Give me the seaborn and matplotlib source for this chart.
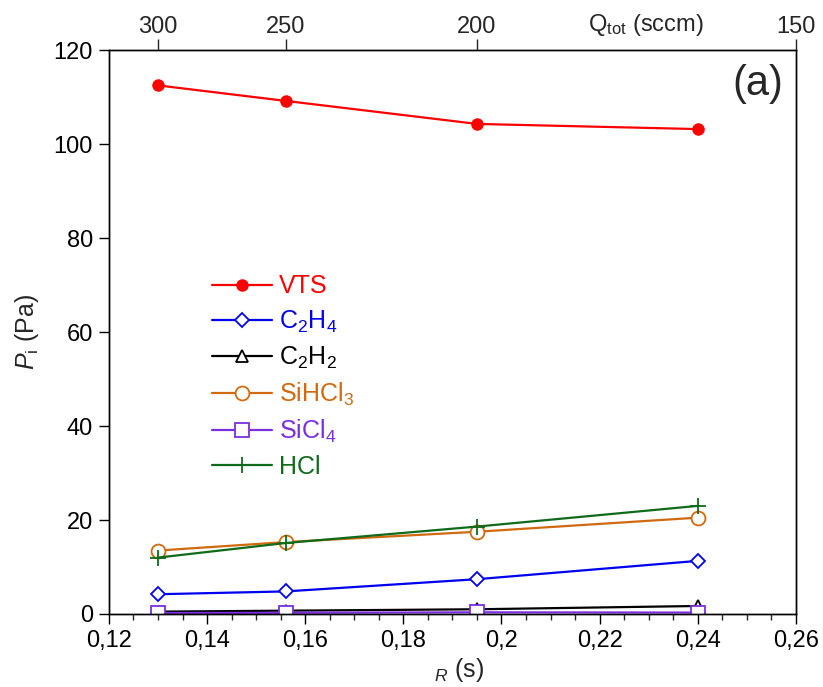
import numpy as np
import pandas as pd
import matplotlib
matplotlib.use("Agg")
import matplotlib.pyplot as plt
from matplotlib.ticker import FuncFormatter, MultipleLocator
import seaborn as sns

# ---- data ----
tau_R = [0.13, 0.156, 0.195, 0.24]
Q_tot_ticks = [300, 250, 200, 150]
vts = [112.5, 109.2, 104.3, 103.2]
c2h4 = [4.2, 4.8, 7.4, 11.3]
c2h2 = [0.5, 0.7, 1.0, 1.7]
sihcl3 = [13.5, 15.3, 17.5, 20.5]
sicl4 = [0.2, 0.25, 0.35, 0.3]
hcl = [12.0, 15.1, 18.6, 23.0]

series_names = ["VTS", r"C$_2$H$_4$", r"C$_2$H$_2$", r"SiHCl$_3$", r"SiCl$_4$", "HCl"]
series_vals = [vts, c2h4, c2h2, sihcl3, sicl4, hcl]
colors = ["#ff0000", "#0000ee", "#000000", "#d0690f", "#7b2ee0", "#0f6a1a"]
markers = ["o", "D", "^", "o", "s", "+"]
filled = [True, False, False, False, False, False]
msizes = [9, 7, 8, 10, 10, 12]

sns.set_style("ticks")
plt.rcParams["font.family"] = ["Liberation Sans", "DejaVu Sans"]
plt.rcParams["mathtext.fontset"] = "custom"
plt.rcParams["mathtext.rm"] = "Liberation Sans"
plt.rcParams["mathtext.it"] = "Liberation Sans:italic"
plt.rcParams["mathtext.bf"] = "Liberation Sans:bold"

fig = plt.figure(figsize=(8.23, 6.87), dpi=100)
ax = fig.add_axes([0.1324, 0.1063, 0.967 - 0.1324, 0.927 - 0.1063])

rows = []
for name, vals in zip(series_names, series_vals):
    for t, v in zip(tau_R, vals):
        rows.append({"tau": t, "P": v, "species": name})
df = pd.DataFrame(rows)

for name, col, mk, fl, ms in zip(series_names, colors, markers, filled, msizes):
    sub = df[df["species"] == name]
    sns.lineplot(data=sub, x="tau", y="P", ax=ax, color=col, marker=mk,
                 markersize=ms, markerfacecolor=col if fl else "white",
                 markeredgecolor=col, markeredgewidth=1.3 if not fl else 0,
                 linewidth=1.6, label=name, legend=False)

ax.set_xlim(0.12, 0.26)
ax.set_ylim(0, 120)
ax.xaxis.set_major_locator(MultipleLocator(0.02))
ax.xaxis.set_minor_locator(MultipleLocator(0.005))
ax.yaxis.set_major_locator(MultipleLocator(20))
fmt = FuncFormatter(lambda x, p: f"{round(x, 4):g}".replace(".", ","))
ax.xaxis.set_major_formatter(fmt)
ax.tick_params(axis="both", which="major", direction="out", length=7.5, width=1,
               labelsize=17, colors="black", pad=4)
ax.tick_params(axis="x", which="minor", direction="out", length=4.5, width=1)
ax.tick_params(axis="y", right=False)
for s in ax.spines.values():
    s.set_visible(True)
    s.set_color("black")
    s.set_linewidth(1)

ax.set_xlabel(r"${}_{R}$ (s)", fontsize=18)
ax.xaxis.set_label_coords(0.51, -0.074)
ax.set_ylabel(r"$P_{\mathrm{i}}$ (Pa)", fontsize=18, labelpad=9)

# top axis
ax2 = ax.twiny()
ax2.set_xlim(ax.get_xlim())
ax2.set_xticks([39.0 / q for q in Q_tot_ticks])
ax2.set_xticklabels([str(q) for q in Q_tot_ticks])
ax2.tick_params(axis="x", which="major", direction="out", length=8, width=1,
                labelsize=17, pad=0.5)
ax2.xaxis.set_minor_locator(plt.NullLocator())
for s in ax2.spines.values():
    s.set_color("black")
    s.set_linewidth(1)
ax.text(0.782, 1.045, r"Q$_{\mathrm{tot}}$ (sccm)", transform=ax.transAxes,
        fontsize=17, ha="center", va="center")

ax.text(0.981, 0.975, "(a)", transform=ax.transAxes, fontsize=30,
        ha="right", va="top")

leg = ax.legend(loc="upper left", bbox_to_anchor=(0.135, 0.62), frameon=False,
                fontsize=18, handlelength=2.4, handletextpad=0.3,
                labelspacing=0.4, borderaxespad=0)
for txt, col in zip(leg.get_texts(), colors):
    txt.set_color(col)

fig.savefig("out.png", dpi=100)
